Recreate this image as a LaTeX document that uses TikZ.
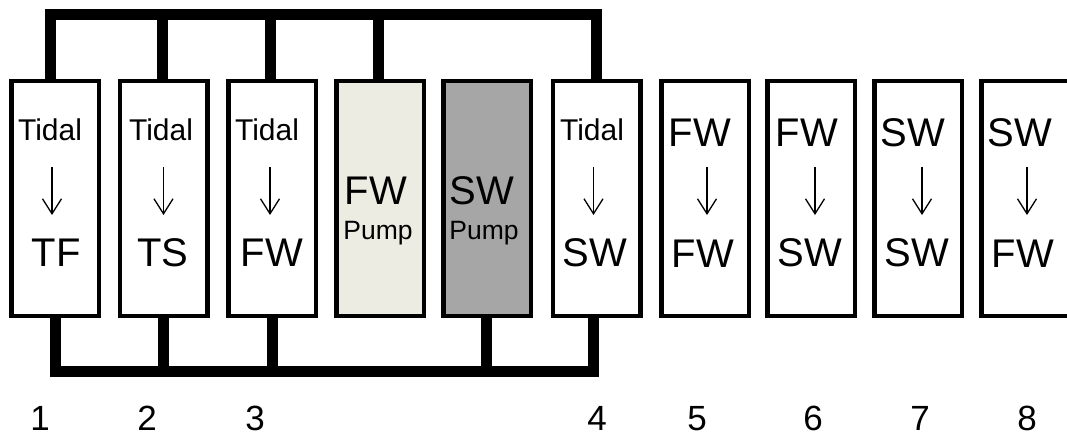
\documentclass[tikz,border=0pt]{standalone}
\usepackage{fontspec}
\setmainfont{Liberation Sans}
\usetikzlibrary{arrows.meta,calc}
\definecolor{fwpump}{RGB}{237,236,226}
\definecolor{swpump}{RGB}{166,166,166}
\begin{document}
\begin{tikzpicture}[x=1pt,y=-1pt,
  tank/.style={draw=black,line width=4.5pt,minimum width=87.5pt,minimum height=234.5pt,inner sep=0pt,fill=white},
  pipe/.style={line width=11pt,line join=miter,line cap=butt},
  arr/.style={line width=1.3pt,-{Straight Barb[length=15pt,width=19pt,line width=1.3pt]}},
  big/.style={font=\fontsize{40}{40}\selectfont,anchor=base,inner sep=0pt},
  mid/.style={font=\fontsize{30}{30}\selectfont,anchor=base,inner sep=0pt},
  small/.style={font=\fontsize{26.5}{26.5}\selectfont,anchor=base,inner sep=0pt},
  num/.style={font=\fontsize{35}{35}\selectfont,anchor=base,inner sep=0pt}]
\useasboundingbox (0,0) rectangle (1067,443);
\clip (0,0) rectangle (1067,443);
% tanks
\node[tank] (b1) at (55,198.5) {};
\node[tank] (b2) at (163.5,198.5) {};
\node[tank] (b3) at (272,198.5) {};
\node[tank,fill=fwpump] (b4) at (380,198.5) {};
\node[tank,fill=swpump] (b5) at (487,198.5) {};
\node[tank] (b6) at (596.5,198.5) {};
\node[tank] (b7) at (705,198.5) {};
\node[tank] (b8) at (811,198.5) {};
\node[tank] (b9) at (918,198.5) {};
\node[tank] (b10) at (1025,198.5) {};
% top manifold
\draw[pipe] ([xshift=-5pt]b1.north) -- ++(0,-64) -| (b6.north);
\draw[pipe] ([xshift=-1.5pt]b2.north) -- ++(0,-64);
\draw[pipe] ([xshift=-2pt]b3.north) -- ++(0,-64);
\draw[pipe] ([xshift=-2pt]b4.north) -- ++(0,-64);
% bottom manifold
\draw[pipe] (b1.south) -- ++(0,53) -| ([xshift=-3pt]b6.south);
\draw[pipe] (b2.south) -- ++(0,53);
\draw[pipe] (b3.south) -- ++(0,53);
\draw[pipe] ([xshift=-1pt]b5.south) -- ++(0,53);
% texts
\node[mid] (t1) at (50,141) {Tidal};
\node[big] (u1) at (56,267) {TF};
\node[mid] (t2) at (161,141) {Tidal};
\node[big] (u2) at (163,267) {TS};
\node[mid] (t3) at (267,141) {Tidal};
\node[big] (u3) at (272,267) {FW};
\node[big] (t4) at (376,205) {FW};
\node[small] (u4) at (378,240) {Pump};
\node[big] (t5) at (482,205) {SW};
\node[small] (u5) at (484,240) {Pump};
\node[mid] (t6) at (592,141) {Tidal};
\node[big] (u6) at (595,267) {SW};
\node[big] (t7) at (700,147) {FW};
\node[big] (u7) at (703,268) {FW};
\node[big] (t8) at (807,147) {FW};
\node[big] (u8) at (810,267) {SW};
\node[big] (t9) at (913,147) {SW};
\node[big] (u9) at (917,267) {SW};
\node[big] (t10) at (1020,147) {SW};
\node[big] (u10) at (1023,268) {FW};
% arrows
\draw[arr] ($(b1.center)+(-3,-31.5)$) -- ($(b1.center)+(-3,16.5)$);
\draw[arr] ($(b2.center)+(0,-31.5)$) -- ($(b2.center)+(0,16.5)$);
\draw[arr] ($(b3.center)+(-2,-31.5)$) -- ($(b3.center)+(-2,16.5)$);
\draw[arr] ($(b6.center)+(-3,-31.5)$) -- ($(b6.center)+(-3,16.5)$);
\draw[arr] ($(b7.center)+(2,-31.5)$) -- ($(b7.center)+(2,16.5)$);
\draw[arr] ($(b8.center)+(4,-31.5)$) -- ($(b8.center)+(4,16.5)$);
\draw[arr] ($(b9.center)+(4,-31.5)$) -- ($(b9.center)+(4,16.5)$);
\draw[arr] ($(b10.center)+(2,-31.5)$) -- ($(b10.center)+(2,16.5)$);
% numbers
\node[num] (n1) at (40,430) {1};
\node[num] (n2) at (147,430) {2};
\node[num] (n3) at (255,430) {3};
\node[num] (n4) at (597,430) {4};
\node[num] (n5) at (697,430) {5};
\node[num] (n6) at (813,430) {6};
\node[num] (n7) at (920,430) {7};
\node[num] (n8) at (1027,430) {8};
\end{tikzpicture}
\end{document}
